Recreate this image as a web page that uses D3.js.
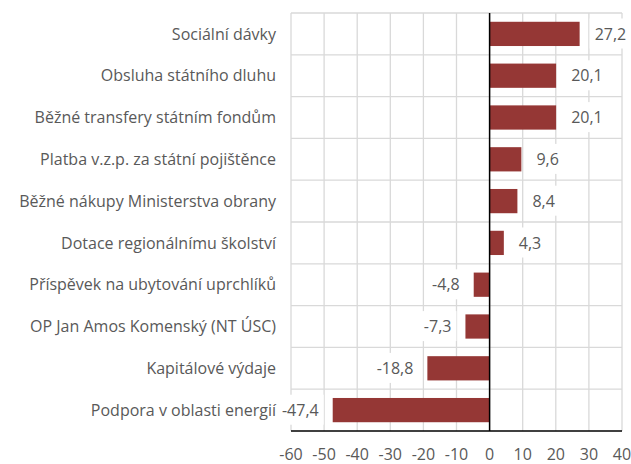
<!DOCTYPE html>
<html>
<head>
<meta charset="utf-8">
<script src="https://cdn.jsdelivr.net/npm/d3@7"></script>
<style>
  body { margin: 0; background: #fff; }
  text { font-family: "Open Sans", sans-serif; fill: #595959; }
</style>
</head>
<body>
<div id="chart"></div>
<script>
const categories = [
    "Sociální dávky",
    "Obsluha státního dluhu",
    "Běžné transfery státním fondům",
    "Platba v.z.p. za státní pojištěnce",
    "Běžné nákupy Ministerstva obrany",
    "Dotace regionálnímu školství",
    "Příspěvek na ubytování uprchlíků",
    "OP Jan Amos Komenský (NT ÚSC)",
    "Kapitálové výdaje",
    "Podpora v oblasti energií"
];
const values = [27.2, 20.1, 20.1, 9.6, 8.4, 4.3, -4.8, -7.3, -18.8, -47.4];
const xTicks = [-60, -50, -40, -30, -20, -10, 0, 10, 20, 30, 40];

const width = 631, height = 464;
const margin = {top: 13, right: 9, bottom: 33, left: 291};
const fontSize = "16px";

const svg = d3.select("#chart").append("svg")
    .attr("width", width)
    .attr("height", height);

let x = d3.scaleLinear()
    .domain([-60, 40])
    .range([margin.left, width - margin.right]);

let y = d3.scaleBand()
    .domain(categories)
    .range([margin.top, height - margin.bottom])
    .paddingInner(0.42)
    .paddingOuter(0.21);

// grid
let gy0 = margin.top, gy1 = height - margin.bottom;
svg.append("g").selectAll("line")
    .data(xTicks)
    .enter().append("line")
    .attr("x1", d => x(d)).attr("x2", d => x(d))
    .attr("y1", gy0).attr("y2", gy1)
    .attr("stroke", "#d9d9d9").attr("stroke-width", 1.3);

svg.append("g").selectAll("line")
    .data(d3.range(categories.length))
    .enter().append("line")
    .attr("x1", x(-60)).attr("x2", x(40))
    .attr("y1", i => gy0 + i * (gy1 - gy0) / categories.length)
    .attr("y2", i => gy0 + i * (gy1 - gy0) / categories.length)
    .attr("stroke", "#d9d9d9").attr("stroke-width", 1.3);

// bars
svg.append("g").selectAll("rect")
    .data(values)
    .enter().append("rect")
    .attr("x", d => x(Math.min(0, d)))
    .attr("width", d => Math.abs(x(d) - x(0)))
    .attr("y", (d, i) => y(categories[i]))
    .attr("height", y.bandwidth())
    .attr("fill", "#953735");

// zero line
svg.append("line")
    .attr("x1", x(0)).attr("x2", x(0))
    .attr("y1", gy0).attr("y2", gy1)
    .attr("stroke", "#000").attr("stroke-width", 1.5);

// x axis line
svg.append("line")
    .attr("x1", x(-60)).attr("x2", x(40))
    .attr("y1", gy1).attr("y2", gy1)
    .attr("stroke", "#000").attr("stroke-width", 1.5);

// x tick labels
svg.append("g").selectAll("text")
    .data(xTicks)
    .enter().append("text")
    .attr("x", d => x(d))
    .attr("y", gy1 + 29)
    .attr("text-anchor", "middle")
    .style("font-size", fontSize)
    .text(d => String(d));

// category labels
svg.append("g").selectAll("text")
    .data(categories)
    .enter().append("text")
    .attr("x", margin.left - 15)
    .attr("y", d => y(d) + y.bandwidth() / 2)
    .attr("dy", "0.35em")
    .attr("text-anchor", "end")
    .style("font-size", fontSize)
    .text(d => d);

// value labels with white boxes
let fmt = d => d.toFixed(1).replace(".", ",");
let lbl = svg.append("g").selectAll("g")
    .data(values)
    .enter().append("g")
    .attr("transform", (d, i) => {
        let px = d >= 0 ? x(d) + 15 : x(d) - 14;
        return "translate(" + px + "," + (y(categories[i]) + y.bandwidth() / 2) + ")";
    });

lbl.append("text")
    .attr("dy", "0.35em")
    .attr("text-anchor", d => d >= 0 ? "start" : "end")
    .style("font-size", fontSize)
    .text(fmt);

lbl.each(function() {
    let g = d3.select(this);
    let b = g.select("text").node().getBBox();
    g.insert("rect", "text")
        .attr("x", b.x - 5).attr("y", b.y - 4)
        .attr("width", b.width + 10).attr("height", b.height + 8)
        .attr("fill", "#fff");
});
</script>
</body>
</html>
